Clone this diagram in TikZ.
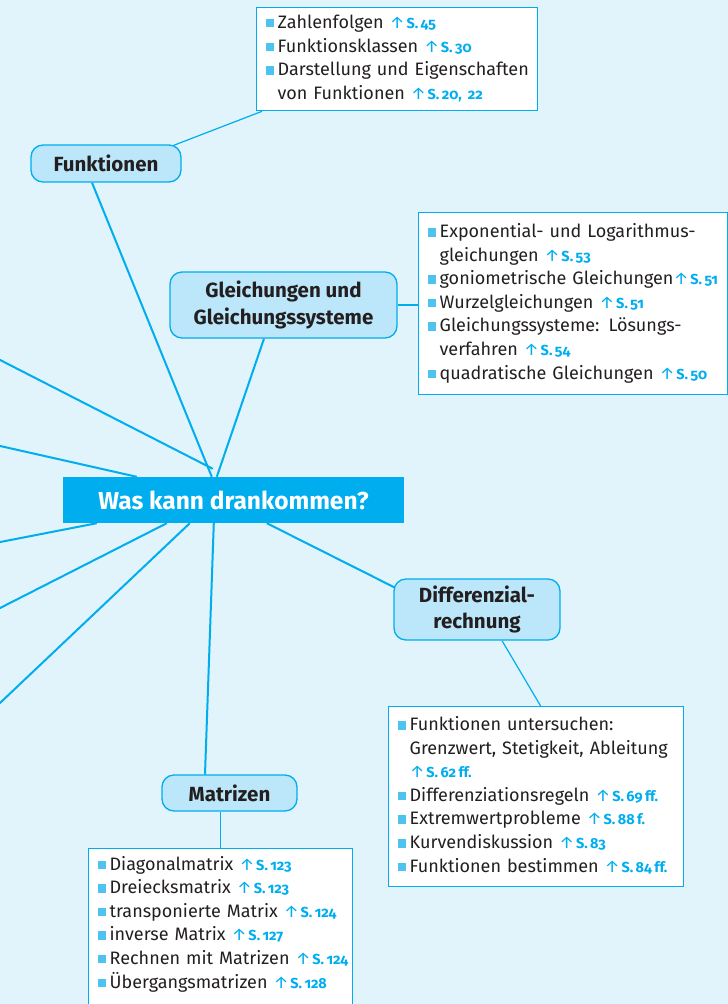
\documentclass[tikz,border=0pt]{standalone}
\usepackage{fontspec}
\setmainfont{Fira Sans}
\newfontfamily\reffont[Numbers=OldStyle]{Fira Sans}
\usetikzlibrary{backgrounds}
\definecolor{MMcyan}{HTML}{00AEEF}
\definecolor{MMsky}{HTML}{E1F3FB}
\definecolor{MMnode}{HTML}{BCE6F9}
\definecolor{MMbullet}{HTML}{4EC3F0}
\definecolor{MMink}{HTML}{231F20}
\newcommand{\bul}{\textcolor{MMbullet}{\raisebox{1pt}{\rule{8.5pt}{8.5pt}}}}
\newcommand{\srefx}[1]{{\color{MMcyan}{\fontsize{17}{16}\selectfont ↑}\hspace{1.5pt}%
  \fontsize{14.5}{16}\selectfont\reffont\bfseries S.\,#1}}
\newcommand{\sref}[1]{\hspace{6pt}\srefx{#1}}
\tikzset{
  mmhub/.style={
    rectangle, fill=MMcyan, text=white, inner sep=0pt,
    minimum width=341pt, minimum height=46pt,
    font=\fontsize{24.5}{28}\selectfont\bfseries},
  mmtopic/.style={
    rectangle, rounded corners=12pt, draw=MMcyan, line width=1.3pt,
    fill=MMnode, text=MMink, align=center, inner sep=0pt,
    font=\fontsize{20.5}{26.5}\selectfont\bfseries},
  mmlist/.style={
    rectangle, draw=MMcyan, line width=1.3pt, fill=white, text=MMink,
    anchor=north west, align=left, inner xsep=9pt, inner ysep=0pt,
    font=\fontsize{18}{23.6}\selectfont},
  mmarm/.style={draw=MMcyan, line width=2pt},
  mmleaf/.style={draw=MMcyan, line width=1.2pt},
}

\begin{document}
\begin{tikzpicture}[x=1pt, y=-1pt]
  \useasboundingbox (0,0) rectangle (728,1004);
  %% Centre
  \node[mmhub] (hub) at (233.5,500) {Was kann drankommen?};
  %% Topics
  \node[mmtopic, minimum width=150pt, minimum height=37pt] (funk)
        at (106,163.5) {Funktionen};
  \node[mmtopic, minimum width=227pt, minimum height=66pt] (glei)
        at (283.5,305) {Gleichungen und\\Gleichungssysteme};
  \node[mmtopic, minimum width=166pt, minimum height=61pt] (diff)
        at (477,609.5) {Differenzial-\\rechnung};
  \node[mmtopic, minimum width=135pt, minimum height=36pt] (matr)
        at (229.5,793) {Matrizen};
  %% Lists
  \node[mmlist, text width=263pt, minimum height=103pt] (flist) at (256,7) {%
    \begin{tabular}{@{}l@{\hspace{3.5pt}}l@{}}
      \bul & Zahlenfolgen\sref{45}\\
      \bul & Funktionsklassen\sref{30}\\
      \bul & Darstellung und Eigenschaften\\
           & von Funktionen\sref{20, 22}
    \end{tabular}};
  \node[mmlist, text width=291pt, minimum height=182pt] (glist) at (418,212) {%
    \begin{tabular}{@{}l@{\hspace{3.5pt}}l@{}}
      \bul & Exponential- und Logarithmus-\\
           & gleichungen\sref{53}\\
      \bul & goniometrische Gleichungen\hspace{-6pt}\sref{51}\\
      \bul & Wurzelgleichungen\sref{51}\\
      \bul & Gleichungssysteme: Lösungs-\\
           & verfahren\sref{54}\\
      \bul & quadratische Gleichungen\sref{50}
    \end{tabular}};
  \node[mmlist, text width=277pt, minimum height=180pt] (dlist) at (388,706) {%
    \begin{tabular}{@{}l@{\hspace{3.5pt}}l@{}}
      \bul & Funktionen untersuchen:\\
           & Grenzwert, Stetigkeit, Ableitung\\
           & \srefx{62\,ff.}\\
      \bul & Differenziationsregeln\sref{69\,ff.}\\
      \bul & Extremwertprobleme\sref{88\,f.}\\
      \bul & Kurvendiskussion\sref{83}\\
      \bul & Funktionen bestimmen\sref{84\,ff.}
    \end{tabular}};
  % runs past the bottom edge
  \node[mmlist, text width=246pt, minimum height=175pt] (mlist) at (88,848) {%
    \begin{tabular}{@{}l@{\hspace{3.5pt}}l@{}}
      \bul & Diagonalmatrix\sref{123}\\
      \bul & Dreiecksmatrix\sref{123}\\
      \bul & transponierte Matrix\sref{124}\\
      \bul & inverse Matrix\sref{127}\\
      \bul & Rechnen mit Matrizen\sref{124}\\
      \bul & Übergangsmatrizen\sref{128}\\
           & 
    \end{tabular}};
  %% Arms (left ones run off the page)
  \coordinate (offA) at (-30,344.6);
  \coordinate (offB) at (-30,439.2);
  \coordinate (offC) at (-30,547.9);
  \coordinate (offD) at (-30,623.3);
  \coordinate (offE) at (-30,731.4);
  \begin{scope}[on background layer]
    \fill[MMsky] (0,0) rectangle (728,1004);
    \draw[mmarm] ([shift={(-14,0)}]funk.south) -- ([shift={(149,0)}]hub.north west);
    \draw[mmarm] ([shift={(-19.5,0)}]glei.south) -- ([shift={(154,0)}]hub.north west);
    \draw[mmarm] ([shift={(204,0)}]hub.south west) -- ([shift={(1,9)}]diff.north west);
    \draw[mmarm] ([shift={(151,0)}]hub.south west) -- ([shift={(-24.5,0)}]matr.north);
    \draw[mmarm] (offA) -- ([shift={(150,-8)}]hub.north west);
    \draw[mmarm] (offB) -- ([shift={(74,0)}]hub.north west);
    \draw[mmarm] (offC) -- ([shift={(34,0)}]hub.south west);
    \draw[mmarm] (offD) -- ([shift={(104,0)}]hub.south west);
    \draw[mmarm] (offE) -- ([shift={(127,0)}]hub.south west);
    %% Leaf links
    \draw[mmleaf] ([shift={(-8,1)}]funk.north east) -- ([shift={(6,0)}]flist.south west);
    \draw[mmleaf] (glei.east) -- (glei.east -| glist.west);
    \draw[mmleaf] ([shift={(25,0)}]diff.south) -- ([shift={(4.5,0)}]dlist.north);
    \draw[mmarm, line width=1.6pt] (mlist.north |- matr.south) -- (mlist.north);
  \end{scope}
\end{tikzpicture}
\end{document}
